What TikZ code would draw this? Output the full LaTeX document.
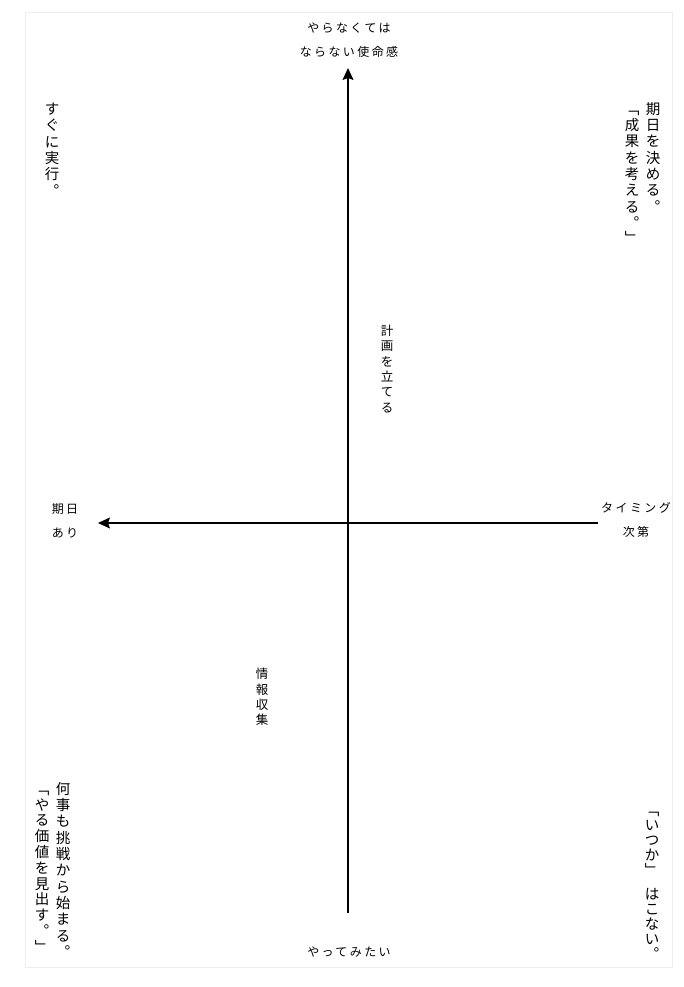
\documentclass[tikz,border=0pt]{standalone}
\usepackage{fontspec}
\setmainfont{Noto Sans CJK JP}
\newfontfamily\jpwide[LetterSpace=20]{Noto Sans CJK JP}
\usetikzlibrary{arrows.meta}

\begin{document}
\begin{tikzpicture}[x=1pt,y=-1pt]
	\definecolor{cframe}{rgb}{0.93,0.93,0.93}
	\definecolor{caxis}{rgb}{0.0,0.0,0.0}
	\definecolor{ctext}{rgb}{0.0,0.0,0.0}
	\tikzset{
		axis/.style={line width=1.2pt,color=caxis,-{Stealth[length=12pt,width=11pt,inset=2pt]}},
		axislbl/.style={font=\jpwide\fontsize{12}{23.5}\selectfont,text=ctext,align=center,inner sep=0pt},
		vbig/.style={font=\fontsize{14.5}{16.3}\selectfont,text=ctext,align=center,inner sep=0pt,anchor=north},
		vsmall/.style={font=\fontsize{12.5}{15.3}\selectfont,text=ctext,align=center,inner sep=0pt,anchor=north},
	}
	%
	\useasboundingbox (0,0) rectangle (684,987);
	\draw[cframe,line width=0.8pt] (25,12) rectangle (672,967);
	%
	\coordinate (ytop) at (348,68);
	\coordinate (ybot) at (348,913);
	\coordinate (xleft) at (98,523);
	\coordinate (xright) at (598,523);
	%
	\node[axislbl] (must) at (349,40) {やらなくては\\ならない使命感};
	\node[axislbl] (try) at (349,952) {やってみたい};
	\node[axislbl] (deadline) at (65,521) {期日\\あり};
	\node[axislbl] (timing) at (636,520) {タイミング\\次第};
	%
	\node[vbig] (now) at (52,103) {す\\ぐ\\に\\実\\行\\︒};
	\node[vbig] (decide) at (653,102) {期\\日\\を\\決\\め\\る\\︒};
	\node[vbig] (result) at (632,102) {\vphantom{期}﹁\\成\\果\\を\\考\\え\\る\\︒\\[-1pt]﹂};
	\node[vbig] (always) at (63,782) {何\\事\\も\\挑\\戦\\か\\ら\\始\\ま\\る\\︒};
	\node[vbig,font=\fontsize{14.5}{15.8}\selectfont] (worth) at (42,782) {\vphantom{何}﹁\\や\\る\\価\\値\\を\\見\\出\\す\\︒\\﹂};
	\node[vbig,font=\fontsize{14.5}{15}\selectfont] (never) at (652,803) {\vphantom{何}﹁\\い\\つ\\か\\﹂\\[9pt]は\\こ\\な\\い\\︒};
	%
	\node[vsmall] (plan) at (387,325) {計\\画\\を\\立\\て\\る};
	\node[vsmall] (info) at (262,668) {情\\報\\収\\集};
	%
	\draw[axis] (ybot) -- (ytop);
	\draw[axis] (xright) -- (xleft);
	%
\end{tikzpicture}
\end{document}
